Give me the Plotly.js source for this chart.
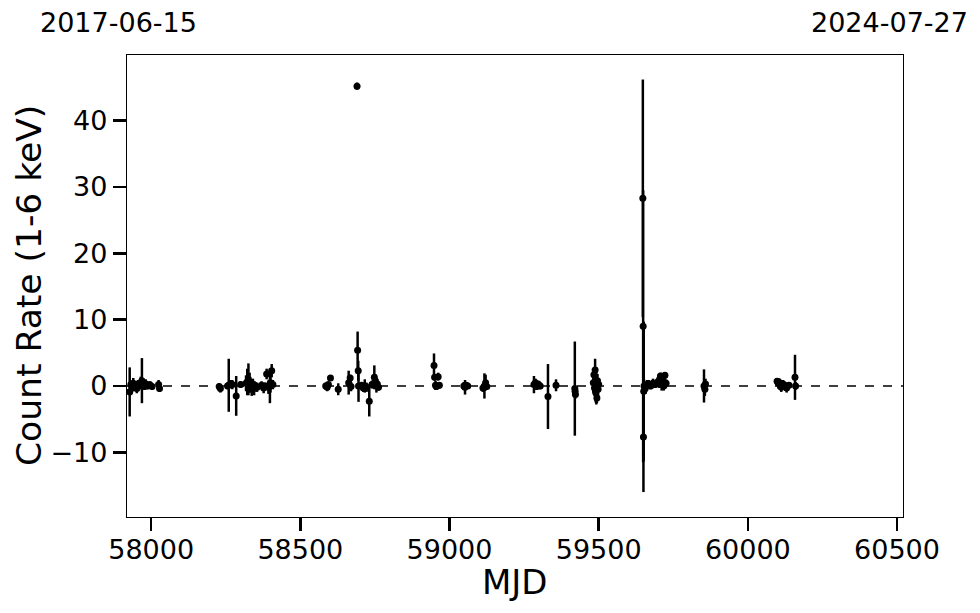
<!DOCTYPE html>
<html>
<head>
<meta charset="utf-8">
<script src="https://cdn.plot.ly/plotly-3.0.1.min.js"></script>
<style>html,body{margin:0;padding:0;background:#fff;}#chart{width:980px;height:613px;}</style>
</head>
<body>
<div id="chart"></div>
<script>
// Observation epochs (MJD)
const mjd = [
  57928,57932,57936,57940,57944,57948,57952,57956,57960,57965,57969,57973,57977,57982,57988,57995,58003,58025,58028,
  58228,58232,58256,58260,58266,58272,58285,58300,58318,58322,58326,58330,58333,58337,58341,58345,58350,58355,58370,58377,58383,58387,58393,58398,58400,58404,58408,
  58585,58590,58594,58601,58627,58662,58667,58670,58690,58692,58694,58695,58705,58711,58716,58722,58731,58740,58748,58751,58755,58758,58762,
  58948,58950,58953,58956,58962,58966,
  59048,59052,59056,59061,
  59112,59117,59121,59125,
  59283,59288,59292,59297,59304,59330,59357,
  59420,59421,59422,
  59482,59484,59486,59488,59490,59492,59494,59496,59498,59500,
  59648,59649,59650,59651,59652,59656,59662,59668,59674,59682,59690,59697,59703,59707,59711,59715,59718,59722,59726,
  59853,59856,59858,
  60098,60102,60107,60112,60118,60124,60130,60138,60158,60160
];
// Count rate (1-6 keV)
const rate = [
  -0.9,0.2,-0.3,0.4,-0.2,0.1,-0.4,0.3,0.0,0.5,0.8,0.2,-0.1,0.3,0.0,0.2,-0.1,0.2,-0.4,
  -0.1,-0.4,0.0,0.1,0.3,0.2,-1.5,0.2,0.4,0.6,1.0,0.5,0.0,-0.3,0.3,-0.4,0.0,-0.2,0.1,-0.3,0.0,1.8,-0.2,0.0,0.5,2.3,0.2,
  0.0,-0.2,0.2,1.2,-0.5,0.5,1.2,-0.1,45.2,5.4,2.3,0.0,0.1,-0.3,0.0,-0.2,-2.3,0.2,1.3,0.8,0.0,0.3,-0.2,
  3.1,1.3,0.1,-0.1,1.4,0.1,
  0.0,-0.2,0.1,0.0,
  -0.3,0.0,0.5,-0.1,
  0.2,0.5,-0.1,0.3,0.0,-1.6,0.1,
  -0.4,-0.8,-1.3,
  0.5,1.7,-0.3,2.4,-1.0,0.0,-1.8,0.8,-0.5,0.2,
  28.3,9.0,-7.7,-0.8,0.0,-0.4,0.2,0.3,0.0,0.4,0.2,0.6,0.5,1.5,0.3,1.2,0.0,1.6,0.4,
  0.0,-0.5,0.3,
  0.7,0.4,0.5,-0.2,0.3,0.1,-0.3,0.1,1.3,0.0
];
// 1-sigma uncertainties
const err = [
  3.7,0.6,0.5,0.8,0.6,0.5,0.7,0.6,0.5,0.9,3.4,0.6,0.5,0.7,0.5,0.4,0.5,0.7,0.5,
  0.5,0.6,0.5,4.0,0.6,0.7,3.0,0.5,1.2,2.0,2.4,1.5,1.0,1.2,0.8,1.0,0.6,0.7,0.6,0.8,0.5,0.8,1.0,2.6,1.5,1.0,0.7,
  0.5,0.6,0.4,0.4,0.9,1.8,0.5,0.7,0.55,2.8,1.5,2.4,0.5,0.6,1.0,0.7,2.3,0.6,1.8,1.0,1.0,0.7,0.5,
  1.8,0.5,0.7,0.5,0.6,0.5,
  0.6,1.1,0.5,0.4,
  0.6,1.9,1.2,0.5,
  1.3,0.6,0.5,0.4,0.5,4.9,0.9,
  7.1,0.7,0.6,
  1.5,1.0,1.2,1.7,1.5,2.8,0.8,1.0,1.2,0.6,
  17.9,20.5,8.3,10.5,1.0,0.8,0.7,0.6,0.5,0.7,0.5,0.7,0.8,0.5,1.0,0.6,0.7,0.4,0.6,
  2.5,1.0,0.8,
  0.5,0.8,0.6,0.7,0.6,0.5,0.7,0.4,3.4,0.6
];
const xTickVals = [58000, 58500, 59000, 59500, 60000, 60500];
const xTickText = ['58000', '58500', '59000', '59500', '60000', '60500'];
const yTickVals = [-10, 0, 10, 20, 30, 40];
const yTickText = ['\u221210', '0', '10', '20', '30', '40'];
const startDate = '2017-06-15';
const endDate = '2024-07-27';

const font = 'DejaVu Sans, sans-serif';

const trace = {
  x: mjd, y: rate, type: 'scatter', mode: 'markers',
  marker: {color: '#000', size: 7},
  error_y: {type: 'data', array: err, visible: true, color: '#000', thickness: 2.5, width: 0},
  hoverinfo: 'x+y'
};

const layout = {
  width: 980, height: 613,
  margin: {l: 127, r: 77, t: 55, b: 96},
  paper_bgcolor: '#fff', plot_bgcolor: '#fff',
  showlegend: false,
  font: {family: font, color: '#000', size: 27},
  xaxis: {
    range: [57919, 60520],
    tickvals: xTickVals, ticktext: xTickText,
    ticks: 'outside', ticklen: 13, tickwidth: 2.5, tickcolor: '#000',
    ticklabelstandoff: -5,
    showline: true, mirror: true, linecolor: '#000', linewidth: 1.2,
    showgrid: false, zeroline: false,
    tickfont: {family: font, size: 27, color: '#000'},
    automargin: false
  },
  yaxis: {
    range: [-19.76, 49.9],
    tickvals: yTickVals, ticktext: yTickText,
    ticks: 'outside', ticklen: 13, tickwidth: 2.5, tickcolor: '#000',
    showline: true, mirror: true, linecolor: '#000', linewidth: 1.2,
    showgrid: false, zeroline: false,
    tickfont: {family: font, size: 27, color: '#000'},
    automargin: false
  },
  shapes: [{
    type: 'line', xref: 'paper', x0: 0, x1: 1, yref: 'y', y0: 0, y1: 0,
    line: {color: '#000', width: 1.5, dash: 'dash'}, layer: 'below'
  }],
  annotations: [
    {text: 'MJD', xref: 'paper', yref: 'paper', x: 0.5, y: -(582 - 517) / 462,
     xanchor: 'center', yanchor: 'middle', showarrow: false,
     font: {family: font, size: 34, color: '#000'}},
    {text: 'Count Rate (1-6 keV)', xref: 'paper', yref: 'paper', x: (29 - 127) / 776, y: 0.5,
     textangle: -90, xanchor: 'center', yanchor: 'middle', showarrow: false,
     font: {family: font, size: 34.5, color: '#000'}},
    {text: startDate, xref: 'paper', yref: 'paper', x: (118 - 127) / 776, y: 1 + (55 - 22) / 462,
     xanchor: 'center', yanchor: 'middle', showarrow: false, font: {family: font, size: 27, color: '#000'}},
    {text: endDate, xref: 'paper', yref: 'paper', x: (889 - 127) / 776, y: 1 + (55 - 22) / 462,
     xanchor: 'center', yanchor: 'middle', showarrow: false, font: {family: font, size: 27, color: '#000'}}
  ]
};

Plotly.newPlot('chart', [trace], layout, {displayModeBar: false, staticPlot: true});
</script>
</body>
</html>
